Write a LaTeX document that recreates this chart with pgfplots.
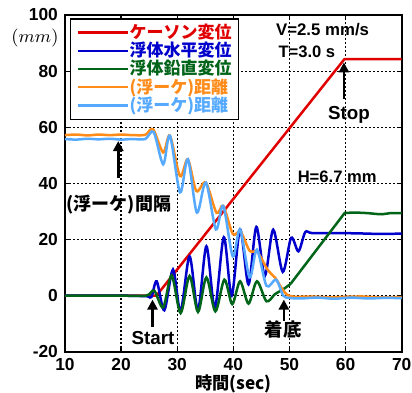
\documentclass[border=0pt]{standalone}
\usepackage{pgfplots}
\pgfplotsset{compat=1.18}
\usepackage{fontspec}
\setmainfont{Liberation Sans}
\newfontfamily\jp{Noto Sans CJK JP}
\usetikzlibrary{arrows.meta}
\definecolor{kred}{RGB}{225,0,0}
\definecolor{kblue}{RGB}{0,0,205}
\definecolor{kgreen}{RGB}{0,100,25}
\definecolor{korange}{RGB}{255,140,25}
\definecolor{klblue}{RGB}{85,170,255}
\tikzset{annarrow/.style={line width=1.25pt, -{Triangle[length=5pt,width=5pt]}}}
\begin{document}
\begin{tikzpicture}
\begin{axis}[
  scale only axis, width=168.5pt, height=168.5pt,
  xmin=10, xmax=70, ymin=-20, ymax=100,
  xtick={10,20,...,70}, ytick={-20,0,...,100},
  grid=major,
  major grid style={black, line width=0.6pt, dash pattern=on 1pt off 1pt},
  axis line style={line width=1.1pt},
  tick align=inside, major tick length=1.8pt, tick style={black, line width=0.6pt},
  ticklabel style={font=\fontsize{8.7}{9}\selectfont\bfseries},
  xticklabel style={inner xsep=0.3pt, inner ysep=1.5pt, yshift=-1.5pt},
  /pgf/number format/assume math mode=true,
  clip=false,
  xlabel={時間(sec)},
  xlabel style={at={(axis description cs:0.5,0)}, anchor=center, yshift=-16pt, inner sep=0pt, font=\jp\bfseries\fontsize{8.6}{9}\selectfont},
  legend style={at={(0.0148,0.990)}, anchor=north west, draw=black, line width=0.6pt, fill=white,
    inner xsep=3.3pt, inner ysep=2.5pt, row sep=0.3pt, column sep=0pt,
    font=\jp\bfseries\fontsize{8.5}{9}\selectfont,
    nodes={inner xsep=0pt, inner ysep=0pt}},
  legend cell align=left,
  legend image code/.code={\draw[#1] (0pt,0pt) -- (16.5pt,0pt); \path (0pt,0pt) -- (25pt,0pt);},
]
% caisson displacement
\addplot[kred, line width=1.25pt] coordinates {(10,0) (26.3,0) (59.8,84.3) (70,84.3)};
\addlegendentry{\textcolor{kred}{ケーソン変位}}
% floating body horizontal
\addplot[kblue, line width=1.25pt, smooth] coordinates {
(10,0) (15,0) (20,0) (24.5,-0.2) (25.4,-0.5) (26.35,5.1) (27.7,-5.2) (29.25,9.3) (30.6,-5.6)
(32.2,14) (33.7,-5.2) (35.2,17.6) (36.7,-4.4) (38.3,20.8) (39.7,0) (41.2,23.6) (42.7,4)
(44.1,24.5) (45.6,7) (47.1,23.5) (48.8,8.5) (50.3,20.6) (51.6,15.8) (52.8,22.6) (54,22.3)
(58,22.3) (62,22.2) (66,22.0) (70,22.1)};
\addlegendentry{\textcolor{kblue}{浮体水平変位}}
% floating body vertical
\addplot[kgreen, line width=1.25pt, smooth] coordinates {
(10,0) (15,0) (20,0) (24.5,0) (25.9,1.8) (27.5,-4.2) (29.0,7.2) (30.6,-6.2) (32.2,7)
(33.7,-5.8) (35.2,6.5) (36.8,-5.6) (38.4,5.7) (39.8,-3) (41.2,5.1) (42.7,-2.8) (44.2,5.1)
(45.9,-2) (47.4,0.5) (48.9,2.3) (50.2,4.2)};
\addlegendentry{\textcolor{kgreen}{浮体鉛直変位}}
% orange distance
\addplot[korange, line width=1.25pt, smooth] coordinates {
(10,57.2) (12,57.4) (14,57.1) (16,57.4) (18,57.2) (20,57.4) (22,57.2) (24.3,57.3)
(25.7,59.3) (27.5,51) (28.7,57) (30.5,42.6) (31.9,48.6) (33.4,37.3) (35.1,40.3) (37.0,29.5)
(38.2,32) (39.9,22) (41.3,22.8) (42.9,16) (44.3,15.5) (46.1,9.3) (47.6,6) (48.5,3)
(49.6,0.3) (51,-0.4) (54,-0.3) (57,-0.6) (60,-0.4) (63,-0.3) (66,-0.6) (70,-0.5)};
\addlegendentry{\textcolor{korange}{(浮ーケ)距離}}
% light blue distance
\addplot[klblue, line width=1.25pt, smooth] coordinates {
(10,55.8) (12,55.6) (14,55.9) (16,55.7) (18,55.9) (20,55.6) (22,55.8) (24.3,55.8)
(25.8,58.3) (27.5,46.8) (28.7,57) (30.5,36.8) (31.9,48.6) (33.5,29.6) (35.1,40.3) (36.9,23.6)
(38.2,32) (39.9,14) (41.2,23.6) (42.9,6.5) (44.2,16.4) (45.9,3.5) (47.6,5.7) (48.9,0)
(50,-0.8) (52,-1.0) (55,-0.7) (58,-1.1) (61,-0.7) (64,-1.0) (67,-0.8) (70,-0.9)};
\addlegendentry{\textcolor{klblue}{(浮ーケ)距離}}
% green linear rise (continuation)
\addplot[kgreen, line width=1.25pt, forget plot] coordinates {
(50.2,4.2) (59.85,29.5) (62,29.6) (64,29.4) (65.5,29.1) (66.5,29.0) (68,29.4) (70,29.4)};

\node[font=\jp\bfseries\fontsize{9}{9}\selectfont, inner sep=0pt] at (axis cs:19.6,32.5) {(浮ーケ)間隔};
\draw[annarrow] (axis cs:19.5,42) -- (axis cs:19.5,55.1);
\node[font=\bfseries\fontsize{9.4}{9.4}\selectfont, inner sep=0pt, anchor=base] at (axis cs:25.7,-17.5) {Start};
\draw[annarrow] (axis cs:25.6,-11) -- (axis cs:25.6,-1.4);
\node[font=\jp\bfseries\fontsize{9.2}{9.2}\selectfont, inner sep=0pt] at (axis cs:48.9,-12.1) {着底};
\draw[annarrow] (axis cs:49,-9.2) -- (axis cs:49,-1.4);
\node[font=\bfseries\fontsize{9.4}{9.4}\selectfont, inner sep=0pt, anchor=base] at (axis cs:60.6,62.6) {Stop};
\draw[annarrow] (axis cs:59.7,70) -- (axis cs:59.7,83.1);
\node[font=\bfseries\fontsize{8.4}{8.4}\selectfont, inner sep=0pt, anchor=base] at (axis cs:55.9,92.6) {V=2.5 mm/s};
\node[font=\bfseries\fontsize{8.3}{8.3}\selectfont, inner sep=0pt, anchor=base] at (axis cs:53.1,84.9) {T=3.0 s};
\node[font=\bfseries\fontsize{8.3}{8.3}\selectfont, inner sep=0pt, anchor=base] at (axis cs:58.5,40.4) {H=6.7 mm};
\node[font=\fontsize{8.7}{9}\selectfont, inner sep=0pt] at ([xshift=-15pt,yshift=-11.75pt]rel axis cs:0,1) {$(mm)$};
\end{axis}
\path ([xshift=-32.5pt,yshift=-20pt]current axis.south west) rectangle ([xshift=5pt,yshift=7.5pt]current axis.north east);
\end{tikzpicture}
\end{document}
